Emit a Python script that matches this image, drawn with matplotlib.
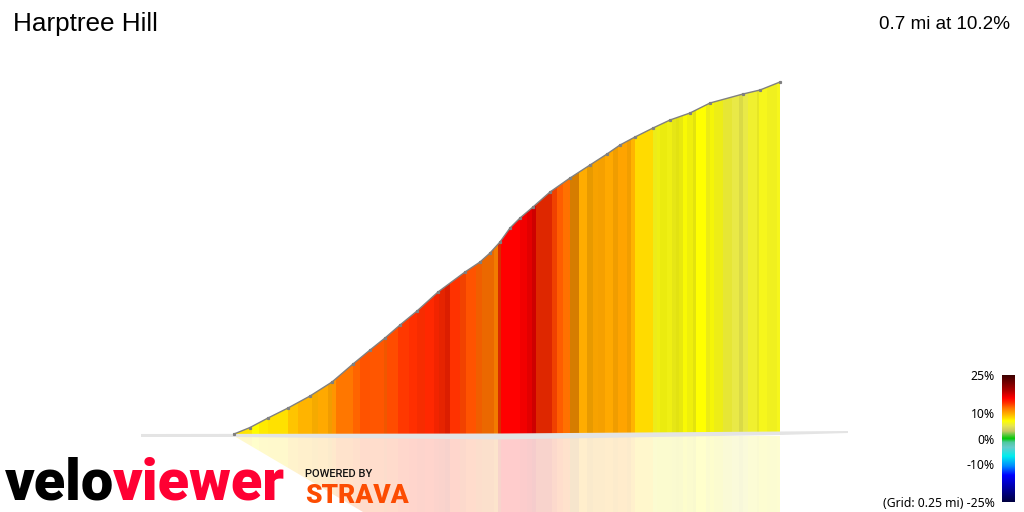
import numpy as np
import matplotlib
matplotlib.use("Agg")
import matplotlib.pyplot as plt
from matplotlib.colors import LinearSegmentedColormap
from matplotlib.patches import Polygon

title = "Harptree Hill"
summary = "0.7 mi at 10.2%"
grid_note = "(Grid: 0.25 mi) -25%"

# profile, chart units from the start of the climb
profile_dist = [0, 16, 34, 54, 76, 98, 119, 136, 151, 166, 183, 204, 231, 246, 256, 266,
                276, 286, 299, 316, 336, 356, 373, 386, 401, 419, 436, 456, 476, 509, 526, 546]
profile_elev = [0, 6.5, 16, 26, 38, 52, 70, 84, 96, 109, 123, 142, 162, 172, 181, 192,
                206, 216, 227, 242, 256, 269, 280, 289, 297, 306, 314, 321, 331, 340, 344, 352]

# gradient strips: start of each strip, gradient %, darkening of the overlap
strip_edges = [0, 18, 25, 34, 54, 64, 78, 84, 94, 98, 102, 119, 126, 136, 150, 153, 164, 175,
               183, 191, 200, 205, 211, 216, 226, 232, 242, 248, 260, 264, 267, 286, 293, 298,
               302, 318, 323, 329, 336, 345, 353, 359, 364, 371, 379, 384, 393, 397, 401, 419,
               423, 426, 433, 438, 442, 445, 449, 453, 459, 462, 472, 476, 480, 489, 498, 505,
               509, 514, 523, 525, 533, 543, 546]
strip_grade = [7.9, 7.1, 7.7, 8.0, 9.0, 9.6, 9.7, 10, 10.2, 10.8, 12, 12.5, 13, 12.9, 12.7, 13.2, 13.8, 14.1,
               14.2, 14.4, 14.5, 14.4, 14.6, 14, 13.4, 13, 12.5, 12.2, 11.6, 14, 16, 16.5, 17, 17.8,
               14.2, 13.4, 12.7, 12.2, 10.8, 9.9, 10, 10.1, 10.1, 10, 10.1, 10.2, 10.1, 9.6, 8.2, 6.3,
               6.5, 6.6, 6.5, 6.4, 6.5, 6.6, 6.9, 6.7, 6.6, 7.0, 6.4, 6.8, 6.4, 5.6, 5.2, 5.1,
               5.2, 5.8, 6, 6.3, 6.2, 6.3]
strip_shade = [1, 1, 1, 1, 1, 1, .96, 1, .95, 1, 1, 1, 1, 1, .94, 1, 1, 1,
               .97, 1, .95, .9, .86, 1, .95, 1, .94, .92, .95, .85, 1, 1, 1, 1,
               .87, .94, 1, 1, .84, 1, .91, .97, .96, 1, .94, 1, .95, 1, 1, .96,
               .96, .94, .96, .93, .91, .93, .98, .95, .91, 1, .95, .97, .96, .97, 1, .94,
               1, 1, .95, 1, .98, 1]

# gradient colour scale
scale_grades = [-25, -14.5, -11, -7, -3.5, -1.5, 0, 1.5, 3, 5, 6, 7, 8, 10, 12, 14, 16, 19, 25]
scale_colors = ["#000040", "#0000ff", "#0088ff", "#00eeee", "#66cccc", "#50c8a0", "#00c800", "#60c840",
                "#c8c864", "#e6e650", "#f2f228", "#ffff00", "#ffe000", "#ffaa00", "#ff7700", "#ff3300",
                "#ff0000", "#b00000", "#3c0000"]
legend_ticks = [25, 10, 0, -10, -25]
legend_labels = ["25%", "10%", "0%", "-10%", grid_note]

cmap = LinearSegmentedColormap.from_list(
    "grade", [((g + 25) / 50, c) for g, c in zip(scale_grades, scale_colors)], N=512)

fig = plt.figure(figsize=(10.24, 5.12), dpi=100, facecolor="white")
ax = fig.add_axes([0, 0, 1, 1])
ax.set_xlim(-234, 790)
ax.set_ylim(-78, 434)
ax.axis("off")

edges = np.array(strip_edges)
left = edges[:-1]
width = np.diff(edges)
rgb = cmap((np.array(strip_grade) + 25) / 50)[:, :3] * np.array(strip_shade)[:, None]

# coloured strips cut to the climb's outline
outline = Polygon(list(zip(profile_dist, profile_elev)) + [(546, 0)], transform=ax.transData)
bars = ax.bar(left, 360, width, align="edge", color=rgb, linewidth=0, antialiased=False, zorder=2)
for b in bars:
    b.set_clip_path(outline)

# faded copy under the ground, cut along the diagonal
reflect = Polygon([(0, -2), (546, -2), (546, -78), (129, -78)], transform=ax.transData)
bars2 = ax.bar(left, -78, width, align="edge", color=rgb, alpha=0.2, linewidth=0, antialiased=False, zorder=1)
for b in bars2:
    b.set_clip_path(reflect)

# ground shadow
shadow_x = [-93, 266, 614, 614, 546, 266, 0, -93]
shadow_y = [0, 0.5, 3, 1, -1, -5.5, -3, -3]
ax.fill(shadow_x, shadow_y, color="#e4e4e4", linewidth=0, zorder=3)

ax.plot(profile_dist, profile_elev, color="#808080", lw=1.0, marker="s", ms=1.3, zorder=4)

ax.text(-221, 403, title, family="Liberation Sans", fontsize=18.8, color="black", va="baseline")
ax.text(776, 405, summary, family="Liberation Sans", fontsize=13.6, color="black", ha="right", va="baseline")

# logo
ax.text(-229, -65, "velo", family="Roboto", weight="black", fontsize=41.5, color="black", va="baseline")
ax.text(51, -65, "viewer", family="Roboto", weight="black", fontsize=41.5, color="#ff0033", ha="right", va="baseline")
ax.text(71, -43, "POWERED BY", family="Roboto", weight="medium", fontsize=8, color="#111111", va="baseline")
ax.text(71, -69, "STRAVA", family="Roboto", weight="black", fontsize=19, color="#fc4c02", va="baseline")

# legend bar
cax = fig.add_axes([1002 / 1024, 1 - 502 / 512, 13 / 1024, 127 / 512])
cax.imshow(np.linspace(25, -25, 256)[:, None], cmap=cmap, vmin=-25, vmax=25, aspect="auto",
           extent=[0, 1, -25, 25])
cax.set_xticks([])
cax.yaxis.set_ticks(legend_ticks, labels=legend_labels)
cax.tick_params(axis="y", length=0, pad=5, labelsize=8.8)
for lab in cax.get_yticklabels():
    lab.set_family("Noto Sans")
for s in cax.spines.values():
    s.set_visible(False)

fig.savefig("out.png", dpi=100)
